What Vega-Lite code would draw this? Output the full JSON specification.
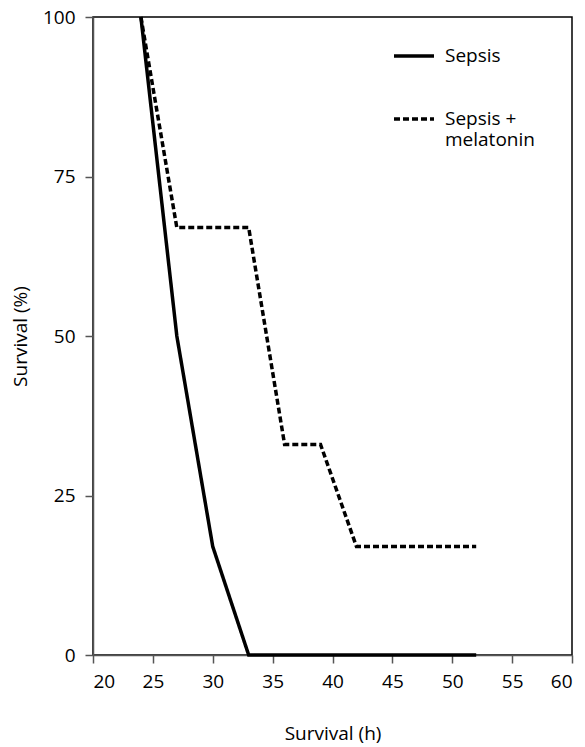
{
  "$schema": "https://vega.github.io/schema/vega-lite/v6.json",
  "autosize": "none",
  "width": 479,
  "height": 638,
  "padding": {"left": 93, "top": 17, "right": 14, "bottom": 92},
  "background": "white",
  "config": {
    "font": "Open Sans",
    "view": {"stroke": "black", "strokeWidth": 1.5},
    "axis": {
      "labelFont": "Open Sans",
      "titleFont": "Open Sans",
      "labelFontSize": 19,
      "titleFontSize": 19,
      "titleFontWeight": "normal",
      "labelColor": "black",
      "titleColor": "black",
      "domainColor": "#555",
      "domainWidth": 1.5,
      "tickColor": "#555",
      "tickWidth": 1.5,
      "tickSize": 8,
      "grid": false
    }
  },
  "data": {
    "values": [
      {"group": "Sepsis", "hours": 24, "survival": 100},
      {"group": "Sepsis", "hours": 27, "survival": 50},
      {"group": "Sepsis", "hours": 30, "survival": 17},
      {"group": "Sepsis", "hours": 33, "survival": 0},
      {"group": "Sepsis", "hours": 52, "survival": 0},
      {"group": "Sepsis + melatonin", "hours": 24, "survival": 100},
      {"group": "Sepsis + melatonin", "hours": 27, "survival": 67},
      {"group": "Sepsis + melatonin", "hours": 33, "survival": 67},
      {"group": "Sepsis + melatonin", "hours": 36, "survival": 33},
      {"group": "Sepsis + melatonin", "hours": 39, "survival": 33},
      {"group": "Sepsis + melatonin", "hours": 42, "survival": 17},
      {"group": "Sepsis + melatonin", "hours": 52, "survival": 17}
    ]
  },
  "mark": {"type": "line", "color": "black", "strokeWidth": 3.5, "strokeCap": "butt", "clip": false},
  "encoding": {
    "x": {
      "field": "hours", "type": "quantitative",
      "scale": {"domain": [20, 60], "nice": false, "zero": false},
      "axis": {"values": [20, 25, 30, 35, 40, 45, 50, 55, 60], "title": "Survival (h)", "labelPadding": 9, "titlePadding": 33}
    },
    "y": {
      "field": "survival", "type": "quantitative",
      "scale": {"domain": [0, 100], "nice": false},
      "axis": {"values": [0, 25, 50, 75, 100], "title": "Survival (%)", "labelPadding": 10, "titlePadding": 12}
    },
    "strokeDash": {
      "field": "group", "type": "nominal",
      "scale": {"domain": ["Sepsis", "Sepsis + melatonin"], "range": [[1, 0], [6, 3]]},
      "legend": {
        "title": null,
        "orient": "none",
        "legendX": 299,
        "legendY": 17,
        "symbolType": "stroke",
        "symbolSize": 1600,
        "symbolStrokeWidth": 3.5,
        "symbolStrokeColor": "black",
        "labelFont": "Open Sans",
        "labelFontSize": 19,
        "labelColor": "black",
        "labelOffset": 9,
        "labelLimit": 200,
        "labelBaseline": "middle",
        "rowPadding": 31,
        "labelExpr": "datum.label == 'Sepsis' ? 'Sepsis' : ['Sepsis +', 'melatonin']"
      }
    }
  }
}
